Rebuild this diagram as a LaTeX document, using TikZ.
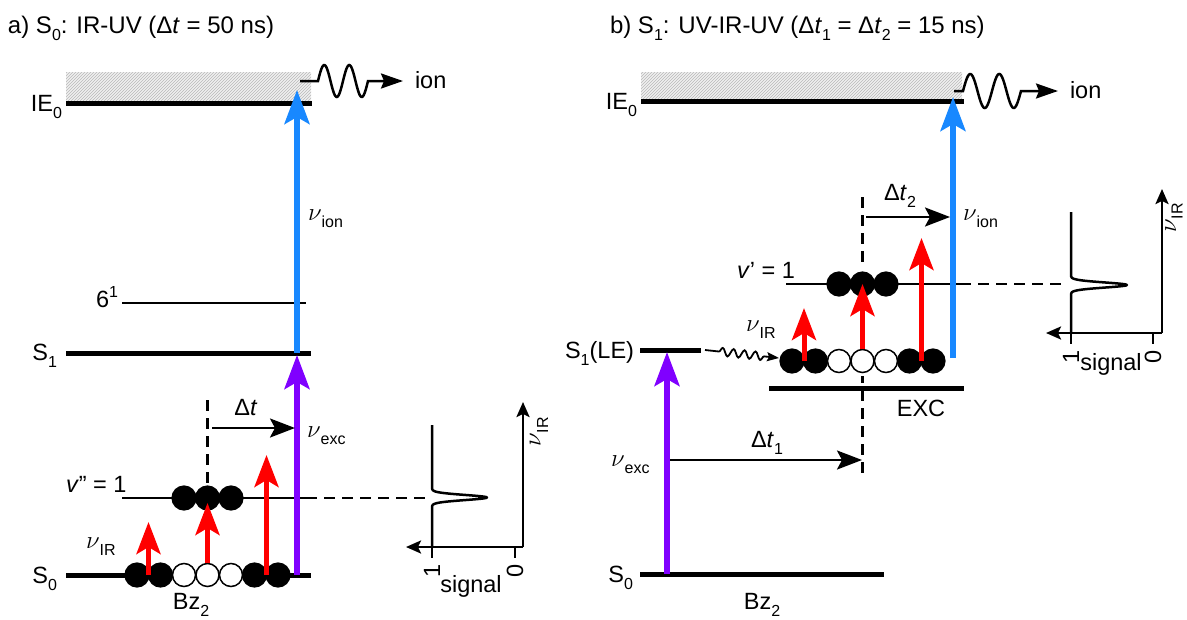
\documentclass[tikz,border=0pt]{standalone}
\usepackage{fontspec}
\setmainfont{Liberation Sans}
\usetikzlibrary{arrows.meta,patterns,decorations.pathmorphing}
\definecolor{ionblue}{RGB}{24,136,255}
\definecolor{excpurple}{RGB}{128,0,255}
\definecolor{irred}{RGB}{255,0,0}
\newcommand\nuv{{\fontsize{26}{26}\selectfont$\nu$}}
\newcommand\mysub[1]{\raisebox{-0.32em}{\fontsize{16}{16}\selectfont #1}}
\newcommand\mysup[1]{\raisebox{0.42em}{\fontsize{16}{16}\selectfont #1}}
\begin{document}
\begin{tikzpicture}[x=1pt,y=-1pt,
  lbl/.style={inner sep=0pt, outer sep=0pt, font=\fontsize{23.5}{27}\selectfont},
  ttl/.style={lbl, font=\fontsize{24}{28}\selectfont},
  level/.style={line width=5pt},
  thinlevel/.style={line width=2.2pt},
  dashl/.style={line width=2.2pt, dash pattern=on 11pt off 7pt},
  beam/.style={line width=5.5pt, -{Stealth[length=34pt,width=25pt,inset=7pt]}},
  ionbeam/.style={beam, ionblue},
  excbeam/.style={beam, excpurple},
  irbeam/.style={line width=5pt, irred, -{Stealth[length=32pt,width=24pt,inset=7pt]}},
  delay/.style={line width=2.5pt, -{Stealth[length=25pt,width=19pt,inset=5pt]}},
  ionwave/.style={line width=2.5pt, -{Stealth[length=22pt,width=15pt,inset=3pt]}},
  axisarrow/.style={line width=2.5pt, -{Stealth[length=15pt,width=13pt,inset=3pt]}},
  molf/.style={circle, fill=black, draw=black, line width=1.2pt, minimum size=24pt, inner sep=0pt},
  molo/.style={circle, fill=white, draw=black, line width=1.5pt, minimum size=23pt, inner sep=0pt},
  hatchbox/.style={pattern=north east lines, pattern color=gray!55}
]
\useasboundingbox (0,0) rectangle (1187,619);
\fill[white] (0,0) rectangle (1187,619);

% ================= panel a =================
\node[ttl, anchor=base west] (atitle) at (8,33) {a) S\mysub{0}: IR-UV (Δ\textit{t} = 50 ns)};

\fill[gray!12] (66,72) rectangle (311,102);
\fill[hatchbox] (66,72) rectangle (311,102);
\coordinate (aIEl) at (66,103); \coordinate (aIEr) at (312,103);
\draw[level] (aIEl) -- (aIEr);
\node[lbl, anchor=base east] (aIE) at (62,111) {IE\mysub{0}};

\coordinate (a6l) at (122,303); \coordinate (a6r) at (306,303);
\draw[thinlevel] (a6l) -- (a6r);
\node[lbl, anchor=base east] (a6) at (118,307) {6\mysup{1}};

\coordinate (aS1l) at (66,353); \coordinate (aS1r) at (311,353);
\draw[level] (aS1l) -- (aS1r);
\node[lbl, anchor=base east] (aS1) at (57,360) {S\mysub{1}};

\coordinate (aVl) at (122,498); \coordinate (aVr) at (306,498);
\coordinate (aVd) at (429,498);
\draw[thinlevel] (aVl) -- (aVr);
\draw[dashl] (aVr) -- (aVd);
\node[lbl, anchor=base west] (aV) at (66,492) {\textit{v}” = 1};

\coordinate (aS0l) at (66,575); \coordinate (aS0r) at (311,575);
\draw[level] (aS0l) -- (aS0r);
\node[lbl, anchor=base east] (aS0) at (57,583) {S\mysub{0}};
\node[lbl, anchor=base] (aBz) at (191,609) {Bz\mysub{2}};

% molecules on S0 and v''=1
\foreach \i/\x/\t in {1/137/molf,2/160.5/molf,3/184/molo,4/207.5/molo,5/231/molo,6/254.5/molf,7/278/molf}
  \node[\t] (aM\i) at (\x,575) {};
\foreach \i/\x in {1/184,2/207.5,3/231}
  \node[molf] (aU\i) at (\x,498) {};

% IR arrows
\coordinate (aR1b) at (148.5,575); \coordinate (aR1t) at (148.5,522);
\coordinate (aR3b) at (266.5,575); \coordinate (aR3t) at (266.5,455);
\coordinate (aR2t) at (207.5,503);
\draw[irbeam] (aR1b) -- (aR1t);
\draw[irbeam] (aM4.north) -- (aR2t);
\draw[irbeam] (aR3b) -- (aR3t);
\node[lbl, anchor=base west] (aIR) at (86,548) {\nuv\mysub{IR}};

% UV beams
\coordinate (aXb) at (297,575); \coordinate (aXt) at (297,355);
\draw[excbeam] (aXb) -- (aXt);
\coordinate (aIb) at (297,353); \coordinate (aIt) at (297,90);
\draw[ionbeam] (aIb) -- (aIt);
\node[lbl, anchor=base west] (aNion) at (308,220) {\nuv\mysub{ion}};
\node[lbl, anchor=base west] (aNexc) at (307,437) {\nuv\mysub{exc}};

% delay
\coordinate (aDt) at (207.5,400);
\draw[dashl] (aDt) -- (aU2.north);
\coordinate (aDa) at (212,428); \coordinate (aDb) at (295,428);
\draw[delay] (aDa) -- (aDb);
\node[lbl, anchor=base] (aDl) at (246,415) {Δ\textit{t}};

% ion wave
\coordinate (aW0) at (300,81); \coordinate (aW1) at (318,81); \coordinate (aWt) at (403,81);
\node[lbl, anchor=base west] (aion) at (415,88) {ion};
\draw[ionwave] (aW0) -- (aW1) -- plot[domain=0:50,samples=70,smooth] ({318+\x},{81-16*sin(14.4*\x)}) -- (aWt);

% signal plot a
\coordinate (aO) at (523,547); \coordinate (aYt) at (523,402); \coordinate (aXl) at (406,547);
\draw[axisarrow] (aO) -- (aYt);
\draw[axisarrow] (aO) -- (aXl);
\coordinate (aT1) at (432,547); \coordinate (aT0) at (515,547);
\draw[line width=2.5pt] (aT1) -- ++(0,11);
\draw[line width=2.5pt] (aT0) -- ++(0,11);
\node[lbl, rotate=90] (a1) at (432,571) {1};
\node[lbl, rotate=90] (a0) at (515,571) {0};
\node[lbl, anchor=base] (asig) at (471,592) {signal};
\node[lbl, rotate=90] (aNy) at (539,432) {\nuv\mysub{IR}};
\coordinate (aCt) at (432,425);
\draw[line width=2.5pt, line join=round] (aCt) -- (432,486)
  -- plot[domain=486:509,samples=60] ({432+55*exp(-((\x-497.5)/3.6)^2)},{\x})
  -- (aT1);

% ================= panel b =================
\node[ttl, anchor=base west] (btitle) at (610,33) {b) S\mysub{1}: UV-IR-UV (Δ\textit{t}\mysub{1} = Δ\textit{t}\mysub{2} = 15 ns)};

\fill[gray!12] (641,72) rectangle (962,100);
\fill[hatchbox] (641,72) rectangle (962,100);
\coordinate (bIEl) at (641,101); \coordinate (bIEr) at (964,101);
\draw[level] (bIEl) -- (bIEr);
\node[lbl, anchor=base east] (bIE) at (637,109) {IE\mysub{0}};

\coordinate (bLEl) at (640,350); \coordinate (bLEr) at (701,350);
\draw[level] (bLEl) -- (bLEr);
\node[lbl, anchor=base east] (bLE) at (634,358) {S\mysub{1}(LE)};

\coordinate (bVl) at (786,284); \coordinate (bVr) at (960,284); \coordinate (bVd) at (1068,284);
\draw[thinlevel] (bVl) -- (bVr);
\draw[dashl] (bVr) -- (bVd);
\node[lbl, anchor=base west] (bV) at (737,278) {\textit{v}’ = 1};

\coordinate (bEl) at (769,388); \coordinate (bEr) at (964,388);
\draw[level] (bEl) -- (bEr);
\node[lbl, anchor=base] (bEXC) at (921,416) {EXC};

\coordinate (bS0l) at (640,574); \coordinate (bS0r) at (884,574);
\draw[level] (bS0l) -- (bS0r);
\node[lbl, anchor=base east] (bS0) at (633,582) {S\mysub{0}};
\node[lbl, anchor=base] (bBz) at (762,609) {Bz\mysub{2}};

% molecules
\foreach \i/\x/\t in {1/792/molf,2/815.5/molf,3/839/molo,4/862.5/molo,5/886/molo,6/909.5/molf,7/933/molf}
  \node[\t] (bM\i) at (\x,361) {};
\foreach \i/\x in {1/839,2/862.5,3/886}
  \node[molf] (bU\i) at (\x,284) {};

% delays (dashed marker)
\coordinate (bDt) at (862.5,197);
\draw[dashl] (bDt) -- (862.5,266);
\coordinate (bDb1) at (862.5,376); \coordinate (bDb2) at (862.5,478);
\draw[dashl, dash phase=4pt] (bDb1) -- (bDb2);
\coordinate (bD2a) at (866,217); \coordinate (bD2b) at (950,217);
\draw[delay] (bD2a) -- (bD2b);
\node[lbl, anchor=base] (bD2l) at (900,200) {Δ\textit{t}\mysub{2}};

% IR arrows
\coordinate (bR1b) at (804,361); \coordinate (bR1t) at (804,308);
\coordinate (bR3b) at (921.5,361); \coordinate (bR3t) at (921.5,238);
\coordinate (bR2t) at (862.5,284);
\draw[irbeam] (bR1b) -- (bR1t);
\draw[irbeam] (bM4.north) -- (bR2t);
\draw[irbeam] (bR3b) -- (bR3t);
\node[lbl, anchor=base west] (bIR) at (746,331) {\nuv\mysub{IR}};

% relaxation wave
\coordinate (bRw0) at (705,350); \coordinate (bRw1) at (779,358);
\draw[line width=1.8pt, -{Stealth[length=12pt,width=9pt,inset=2pt]},
  decorate, decoration={snake, amplitude=4pt, segment length=11pt, pre length=14pt, post length=14pt}]
  (bRw0) -- (bRw1);

% UV beams
\coordinate (bXb) at (667,574); \coordinate (bXt) at (667,352);
\draw[excbeam] (bXb) -- (bXt);
\coordinate (bIb) at (953,358); \coordinate (bIt) at (953,97);
\draw[ionbeam] (bIb) -- (bIt);
\node[lbl, anchor=base west] (bNion) at (963,220) {\nuv\mysub{ion}};
\node[lbl, anchor=base west] (bNexc) at (611,466) {\nuv\mysub{exc}};

% delay 1
\coordinate (bD1a) at (670,460); \coordinate (bD1b) at (862,460);
\draw[delay] (bD1a) -- (bD1b);
\node[lbl, anchor=base] (bD1l) at (767,447) {Δ\textit{t}\mysub{1}};

% ion wave
\coordinate (bW0) at (954,91); \coordinate (bW1) at (963,91); \coordinate (bWt) at (1058,91);
\node[lbl, anchor=base west] (bion) at (1070,98) {ion};
\draw[ionwave] (bW0) -- (bW1) -- plot[domain=0:58,samples=70,smooth] ({963+\x},{91-17*sin(12.4138*\x)}) -- (bWt);

% signal plot b
\coordinate (bO) at (1162,333); \coordinate (bYt) at (1162,189); \coordinate (bXl) at (1046,333);
\draw[axisarrow] (bO) -- (bYt);
\draw[axisarrow] (bO) -- (bXl);
\coordinate (bT1) at (1071,333); \coordinate (bT0) at (1153,333);
\draw[line width=2.5pt] (bT1) -- ++(0,11);
\draw[line width=2.5pt] (bT0) -- ++(0,11);
\node[lbl, rotate=90] (b1) at (1071,357) {1};
\node[lbl, rotate=90] (b0) at (1153,357) {0};
\node[lbl, anchor=base] (bsig) at (1111,370) {signal};
\node[lbl, rotate=90, font=\fontsize{21}{24}\selectfont] (bNy) at (1174,218) {\nuv\mysub{IR}};
\coordinate (bCt) at (1071,212);
\draw[line width=2.5pt, line join=round] (bCt) -- (1071,273)
  -- plot[domain=273:297,samples=60] ({1071+56*exp(-((\x-285)/3.6)^2)},{\x})
  -- (bT1);
\end{tikzpicture}
\end{document}
